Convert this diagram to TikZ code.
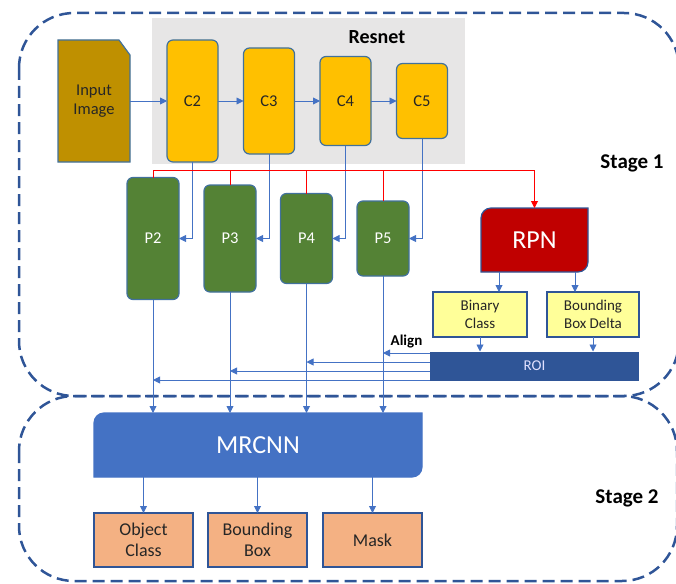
\documentclass[tikz,border=0pt]{standalone}
\usepackage{fontspec}
\setmainfont{Carlito}
\usetikzlibrary{arrows.meta,backgrounds}
\definecolor{stageline}{HTML}{2F5597}
\definecolor{arrowblue}{HTML}{4472C4}
\definecolor{boxedge}{HTML}{41719C}
\definecolor{resnetgray}{HTML}{E7E6E6}
\definecolor{inputfill}{HTML}{BF9000}
\definecolor{cfill}{HTML}{FFC000}
\definecolor{pfill}{HTML}{548235}
\definecolor{rpnfill}{HTML}{C00000}
\definecolor{yellowfill}{HTML}{FFFF99}
\definecolor{roifill}{HTML}{2F5597}
\definecolor{outfill}{HTML}{F4B183}
\definecolor{darktext}{HTML}{262626}
\tikzset{
  stage/.style={draw=stageline, line width=2.5pt, dash pattern=on 12pt off 6pt, rounded corners=55pt},
  block/.style={inner sep=0pt, outer sep=0pt, align=center, font=\fontsize{16.5}{19}\selectfont},
  cblock/.style={block, draw=boxedge, line width=1.2pt, fill=cfill, rounded corners=6pt, text=darktext, minimum width=51pt},
  pblock/.style={block, draw=boxedge, line width=1.2pt, fill=pfill, rounded corners=6pt, text=white, minimum width=52pt},
  yblock/.style={block, draw=stageline, line width=1.2pt, fill=yellowfill, text=darktext, font=\fontsize{15}{17.5}\selectfont},
  outblock/.style={block, draw=stageline, line width=1.2pt, fill=outfill, text=darktext,
                   minimum width=99pt, minimum height=54pt, font=\fontsize{18}{21.5}\selectfont},
  bigblock/.style={block, text=white, font=\fontsize{26}{30}\selectfont},
  stagelabel/.style={font=\bfseries\fontsize{21}{24}\selectfont},
  arr/.style={draw=arrowblue, line width=0.9pt, -{Triangle[length=7pt,width=7pt]}},
  redline/.style={draw=red, line width=0.9pt},
}
\newcommand{\diagcorners}[3]{%
  \begin{scope}[on background layer]
    \draw[#3] (#1.south west) -- ([yshift=-#2]#1.north west)
      arc[start angle=180, end angle=90, radius=#2]
      -- (#1.north east) -- ([yshift=#2]#1.south east)
      arc[start angle=0, end angle=-90, radius=#2] -- cycle;
  \end{scope}}

\begin{document}
\begin{tikzpicture}[x=1pt, y=-1pt]
  \useasboundingbox (0,0) rectangle (676,583);
  \draw[stage] (19,13) rectangle (679,396);
  \draw[stage] (19,396) rectangle (677,581);

  \node[fill=resnetgray, minimum width=313pt, minimum height=146pt, inner sep=0pt] (resnet) at (308.5,91) {};
  \node[font=\bfseries\fontsize{20}{24}\selectfont] (resnetlabel) at (377,37) {Resnet};

  \node[block, text=darktext, minimum width=72pt, minimum height=122pt] (input) at (94,101) {Input\\Image};
  \begin{scope}[on background layer]
    \draw[fill=inputfill, draw=boxedge, line width=1.2pt] (input.south west) -- (input.north west)
      -- ([xshift=-11pt]input.north east) -- ([yshift=-15pt]input.north east) -- (input.south east) -- cycle;
  \end{scope}

  \node[cblock, minimum height=122pt] (c2) at (192.5,101) {C2};
  \node[cblock, minimum height=106pt] (c3) at (269,101) {C3};
  \node[cblock, minimum height=89pt] (c4) at (345.5,101) {C4};
  \node[cblock, minimum height=75pt] (c5) at (422,101) {C5};

  \node[pblock, minimum height=122pt] (p2) at (153,238.5) {P2};
  \node[pblock, minimum height=107pt] (p3) at (230,238.5) {P3};
  \node[pblock, minimum height=90pt] (p4) at (306.5,238.5) {P4};
  \node[pblock, minimum height=75pt] (p5) at (383,238.5) {P5};

  \node[bigblock, minimum width=107pt, minimum height=64pt] (rpn) at (534.5,240) {RPN};
  \diagcorners{rpn}{10pt}{fill=rpnfill, draw=stageline, line width=1.2pt}

  \node[yblock, minimum width=94pt, minimum height=45pt] (binary) at (480,314.5) {Binary\\Class};
  \node[yblock, minimum width=92pt, minimum height=45pt] (bbdelta) at (593,314.5) {Bounding\\Box Delta};
  \node[block, fill=roifill, text=white!88!blue, minimum width=209pt, minimum height=29pt,
        font=\fontsize{15}{17}\selectfont] (roi) at (534.5,366) {ROI};

  \node[bigblock, minimum width=328pt, minimum height=64pt] (mrcnn) at (258,445) {MRCNN};
  \diagcorners{mrcnn}{10pt}{fill=arrowblue, draw=arrowblue, line width=1.2pt}

  \node[outblock] (objclass) at (143.5,540) {Object\\Class};
  \node[outblock] (bbox) at (257.5,540) {Bounding\\Box};
  \node[outblock] (mask) at (372.5,540) {Mask};

  \node[stagelabel] (stage1) at (632,163) {Stage 1};
  \node[stagelabel] (stage2) at (627,498) {Stage 2};

  \draw[arr] (input) -- (c2);
  \draw[arr] (c2) -- (c3);
  \draw[arr] (c3) -- (c4);
  \draw[arr] (c4) -- (c5);

  \draw[arr] (c2.south) |- (p2.east);
  \draw[arr] (c3.south) |- (p3.east);
  \draw[arr] (c4.south) |- (p4.east);
  \draw[arr] (c5.south) |- (p5.east);

  \coordinate (bus) at (0,170);
  \draw[redline, -{Triangle[length=7pt,width=7pt]}] (p2.north) -- (p2.north |- bus) -| (rpn.north);
  \draw[redline] (p3.north) -- (p3.north |- bus);
  \draw[redline] (p4.north) -- (p4.north |- bus);
  \draw[redline] (p5.north) -- (p5.north |- bus);

  \draw[arr] ([xshift=-35.5pt]rpn.south) -- ([xshift=-35.5pt]rpn.south |- binary.north);
  \draw[arr] ([xshift=40.5pt]rpn.south) -- ([xshift=40.5pt]rpn.south |- bbdelta.north);
  \draw[arr] (binary) -- (binary |- roi.north);
  \draw[arr] (bbdelta) -- (bbdelta |- roi.north);

  \draw[arr] ([yshift=13pt]roi.west) -- ([yshift=13pt]roi.west -| p5.south)
    node[midway, above=1pt, text=black, font=\bfseries\fontsize{15}{17}\selectfont] {Align};
  \draw[arr] ([yshift=4pt]roi.west) -- ([yshift=4pt]roi.west -| p4.south);
  \draw[arr] ([yshift=-5pt]roi.west) -- ([yshift=-5pt]roi.west -| p3.south);
  \draw[arr] ([yshift=-14pt]roi.west) -- ([yshift=-14pt]roi.west -| p2.south);

  \draw[arr] (p2.south) -- (p2.south |- mrcnn.north);
  \draw[arr] (p3.south) -- (p3.south |- mrcnn.north);
  \draw[arr] (p4.south) -- (p4.south |- mrcnn.north);
  \draw[arr] (p5.south) -- (p5.south |- mrcnn.north);

  \draw[arr] (mrcnn.south -| objclass) -- (objclass);
  \draw[arr] (mrcnn.south -| bbox) -- (bbox);
  \draw[arr] (mrcnn.south -| mask) -- (mask);
\end{tikzpicture}
\end{document}
